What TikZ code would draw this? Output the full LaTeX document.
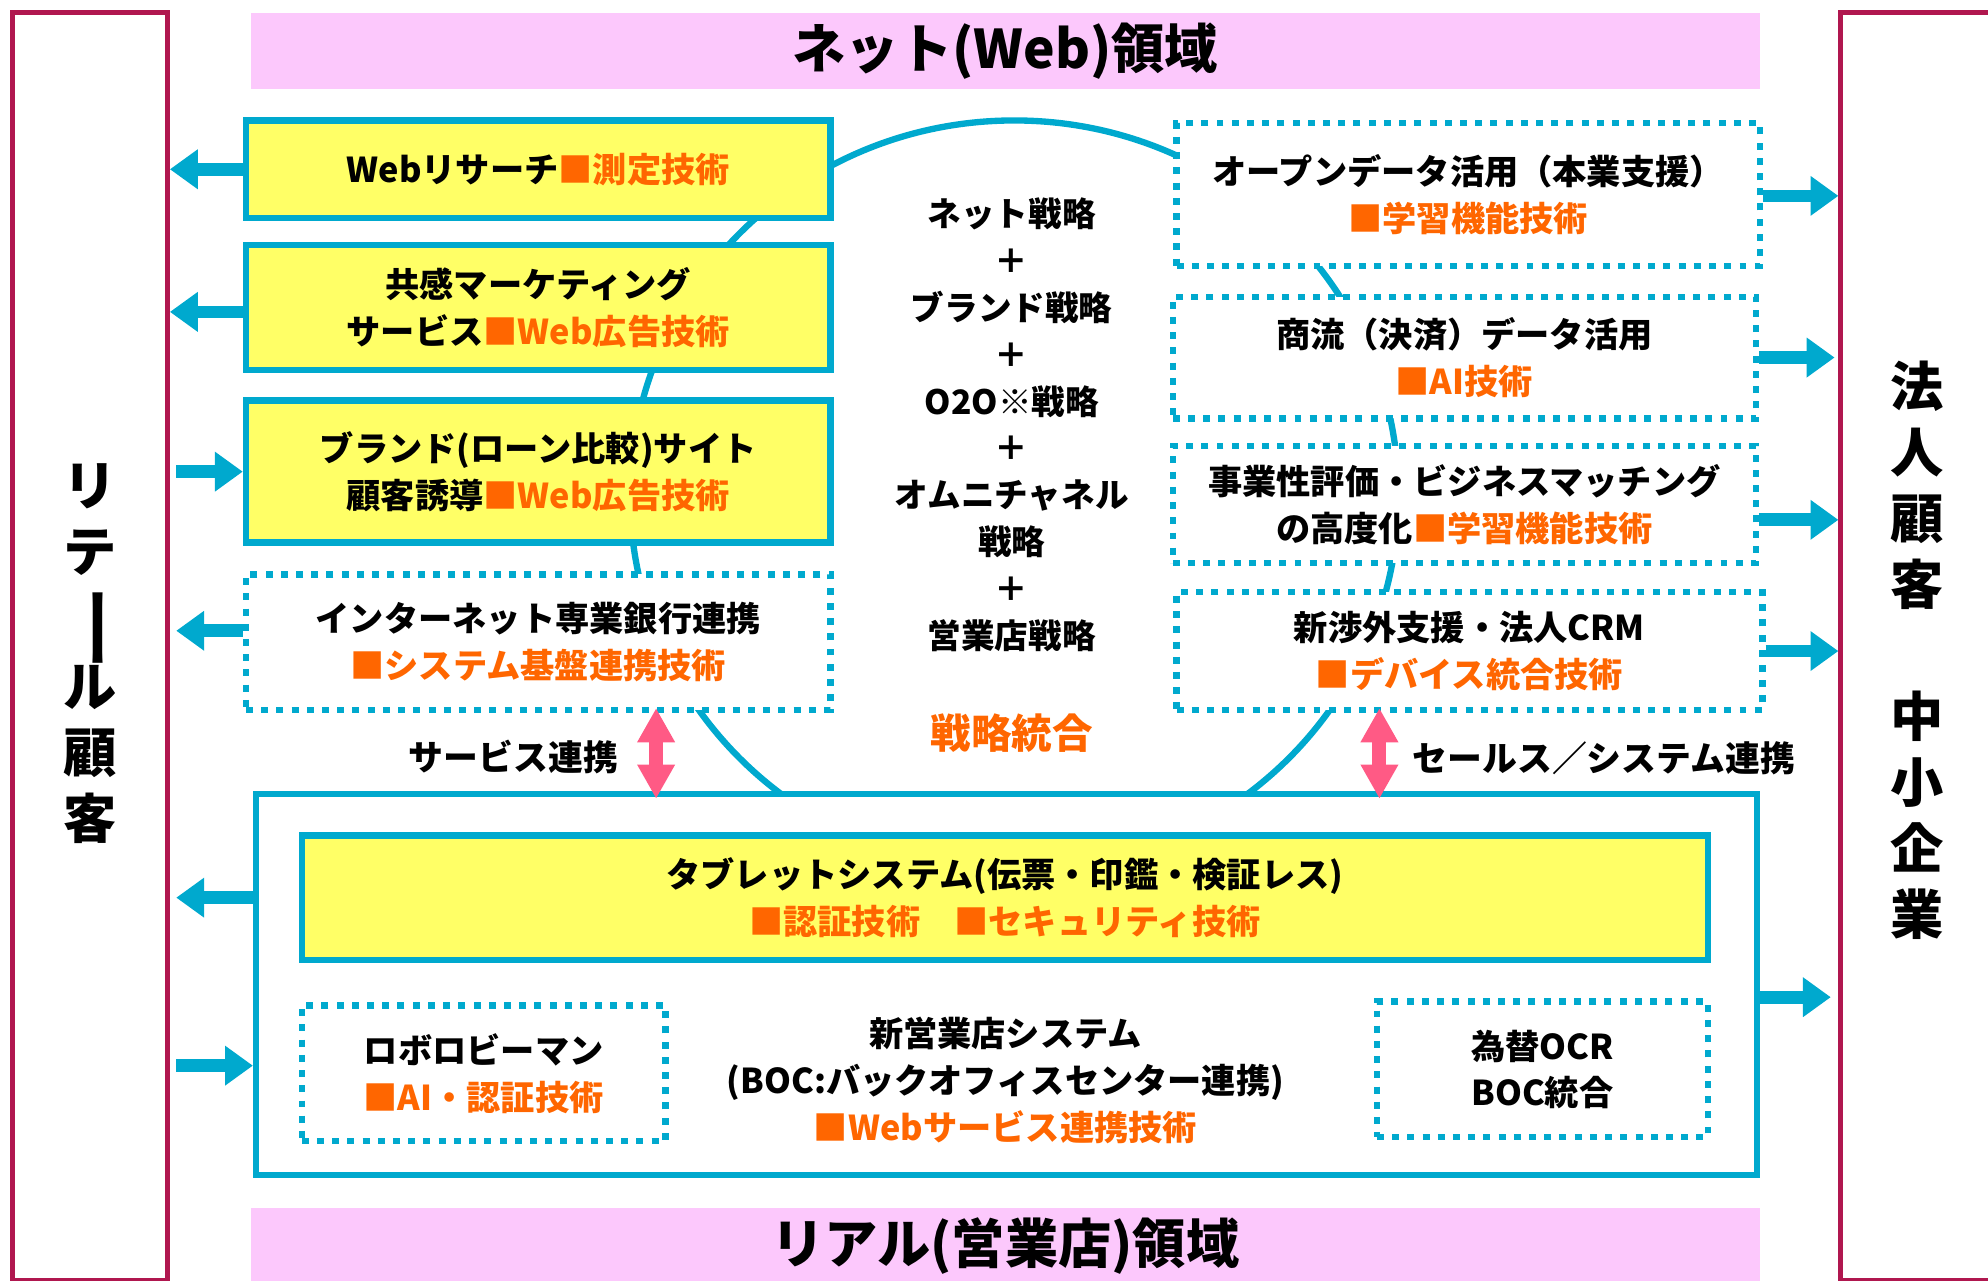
\documentclass[tikz,border=0pt]{standalone}
\usepackage{fontspec}
\setmainfont{Noto Sans CJK JP}
\usetikzlibrary{arrows.meta}
\definecolor{cy}{HTML}{00A9CE}
\definecolor{yel}{HTML}{FFFF66}
\definecolor{org}{HTML}{FF6600}
\definecolor{crim}{HTML}{B0174F}
\definecolor{pk}{HTML}{FCC8FC}
\definecolor{pa}{HTML}{FF5A85}
\newcommand\tech[1]{\textcolor{org}{#1}}
\newcommand\bodyfont{\bfseries\fontsize{27}{37}\selectfont}
\tikzset{
  ybox/.style={draw=cy, line width=5pt, fill=yel, align=center, font=\bodyfont, inner sep=0pt},
  dbox/.style={draw=cy, line width=5pt, dash pattern=on 5.5pt off 6.5pt, fill=white, align=center, font=\bodyfont, inner sep=0pt},
  wbox/.style={draw=cy, line width=5pt, fill=white, inner sep=0pt},
  sidebox/.style={draw=crim, line width=4pt, fill=white, inner sep=0pt},
  banner/.style={fill=pk, inner sep=0pt, font=\bfseries\fontsize{42}{50}\selectfont},
  barrow/.style={draw=cy, line width=10pt, -{Triangle[length=22pt,width=30pt]}},
  parrow/.style={draw=pa, line width=11pt, {Triangle[length=27pt,width=28pt]}-{Triangle[length=27pt,width=28pt]}},
  lbl/.style={font=\bfseries\fontsize{27.5}{30}\selectfont, inner sep=0pt},
  vlbl/.style={font=\bfseries\fontsize{42}{52}\selectfont, align=center, inner sep=0pt},
}
\begin{document}
\begin{tikzpicture}[x=1pt,y=-1pt]
\useasboundingbox (0,0) rectangle (1568,1010);
% side boxes
\node[sidebox, minimum width=122pt, minimum height=1000pt] (retail) at (71,510) {};
\node[sidebox, minimum width=128pt, minimum height=1000pt] (corp) at (1516,510) {};
\node[vlbl] (rt1) at (71,410) {リ\\テ};
\node[rotate=-90, inner sep=0pt, font=\bfseries\fontsize{42}{52}\selectfont] (rtbar) at (71,495) {\scalebox{1.6}[1]{ー}};
\node[vlbl] (rt2) at (71,595) {ル\\顧\\客};
\node[vlbl] (cp1) at (1512,383) {法\\人\\顧\\客};
\node[vlbl] (cp2) at (1512,643) {中\\小\\企\\業};
% banners
\node[banner, minimum width=1190pt, minimum height=60pt] (net) at (793,40) {ネット(Web)領域};
\node[banner, minimum width=1190pt, minimum height=58pt] (real) at (793,982) {};
\node[font=\bfseries\fontsize{42}{50}\selectfont, inner sep=0pt] (realt) at (793,983) {リアル(営業店)領域};
% strategy ellipse
\draw[cy, line width=5pt] (800,391) ellipse [x radius=303pt, y radius=296pt];
% left boxes
\node[ybox, minimum width=461pt, minimum height=77pt] (b1) at (424.5,133.5) {Webリサーチ\tech{■測定技術}};
\node[ybox, minimum width=461pt, minimum height=99pt] (b2) at (424.5,242.5) {共感マーケティング\\サービス\tech{■Web広告技術}};
\node[ybox, minimum width=461pt, minimum height=112pt] (b3) at (424.5,372) {ブランド(ローン比較)サイト\\顧客誘導\tech{■Web広告技術}};
\node[dbox, minimum width=461pt, minimum height=107pt] (b4) at (424.5,506.5) {インターネット専業銀行連携\\\tech{■システム基盤連携技術}};
% right boxes
\node[dbox, minimum width=460pt, minimum height=113pt] (r1) at (1158,153.5) {オープンデータ活用（本業支援）\\\tech{■学習機能技術}};
\node[dbox, minimum width=460pt, minimum height=96pt] (r2) at (1155,282) {商流（決済）データ活用\\\tech{■AI技術}};
\node[dbox, minimum width=460pt, minimum height=92pt] (r3) at (1155,398) {事業性評価・ビジネスマッチング\\の高度化\tech{■学習機能技術}};
\node[dbox, minimum width=462pt, minimum height=93pt] (r4) at (1159,513.5) {新渉外支援・法人CRM\\\tech{■デバイス統合技術}};
% center strategy text
\node[align=center, inner sep=0pt, font=\bfseries\fontsize{26.5}{37}\selectfont] (strat) at (798,335) {ネット戦略\\＋\\ブランド戦略\\＋\\O2O※戦略\\＋\\オムニチャネル\\戦略\\＋\\営業店戦略};
\node[inner sep=0pt, font=\bfseries\fontsize{32}{36}\selectfont, text=org] (integ) at (798,578) {戦略統合};
% bottom big box
\node[wbox, minimum width=1184pt, minimum height=301pt] (big) at (794,776.5) {};
\node[ybox, minimum width=1109pt, minimum height=98pt] (tab) at (792.5,708) {タブレットシステム(伝票・印鑑・検証レス)\\\tech{■認証技術　■セキュリティ技術}};
\node[dbox, minimum width=287pt, minimum height=107pt] (robo) at (381.5,846.5) {ロボロビーマン\\\tech{■AI・認証技術}};
\node[align=center, inner sep=0pt, font=\bodyfont] (boc) at (793,852) {新営業店システム\\(BOC:バックオフィスセンター連携)\\\tech{■Webサービス連携技術}};
\node[dbox, minimum width=261pt, minimum height=107pt] (ocr) at (1216.5,843.5) {為替OCR\\BOC統合};
% helper coordinates
\coordinate (b2w) at ([yshift=-3.5pt]b2.west);
\coordinate (b4w) at ([yshift=9pt]b4.west);
\coordinate (bigin) at ([yshift=6pt]robo.center);
\coordinate (r1e) at ([yshift=-1pt]r1.east);
\coordinate (r3e) at ([yshift=-12pt]r3.east);
\coordinate (bige) at ([yshift=-10pt]big.east);
\coordinate (pl) at ([xshift=93pt,yshift=4pt]b4.south);
\coordinate (pr) at ([xshift=-71pt,yshift=4pt]r4.south);
\coordinate (bigtop) at ([yshift=-6.5pt]big.north);
% left arrows
\draw[barrow] (b1.west) -- (retail.east |- b1.west);
\draw[barrow] (b2w) -- (retail.east |- b2w);
\draw[barrow] ([xshift=5pt]retail.east |- b3.west) -- (b3.west);
\draw[barrow] (b4w) -- ([xshift=5pt]retail.east |- b4w);
\draw[barrow] (big.west |- tab.center) -- ([xshift=5pt]retail.east |- tab.center);
\draw[barrow] ([xshift=5pt]retail.east |- bigin) -- (big.west |- bigin);
% right arrows
\draw[barrow] (r1e) -- (corp.west |- r1e);
\draw[barrow] (r2.east) -- ([xshift=-3pt]corp.west |- r2.east);
\draw[barrow] (r3e) -- (corp.west |- r3e);
\draw[barrow] (r4.east) -- (corp.west |- r4.east);
\draw[barrow] (bige) -- ([xshift=-6pt]corp.west |- bige);
% pink link arrows
\draw[parrow] (pl) -- (pl |- bigtop);
\draw[parrow] (pr) -- (pr |- bigtop);
\node[lbl] (svc) at (405,597) {サービス連携};
\node[lbl] (sales) at (1265,598) {セールス／システム連携};
\end{tikzpicture}
\end{document}
